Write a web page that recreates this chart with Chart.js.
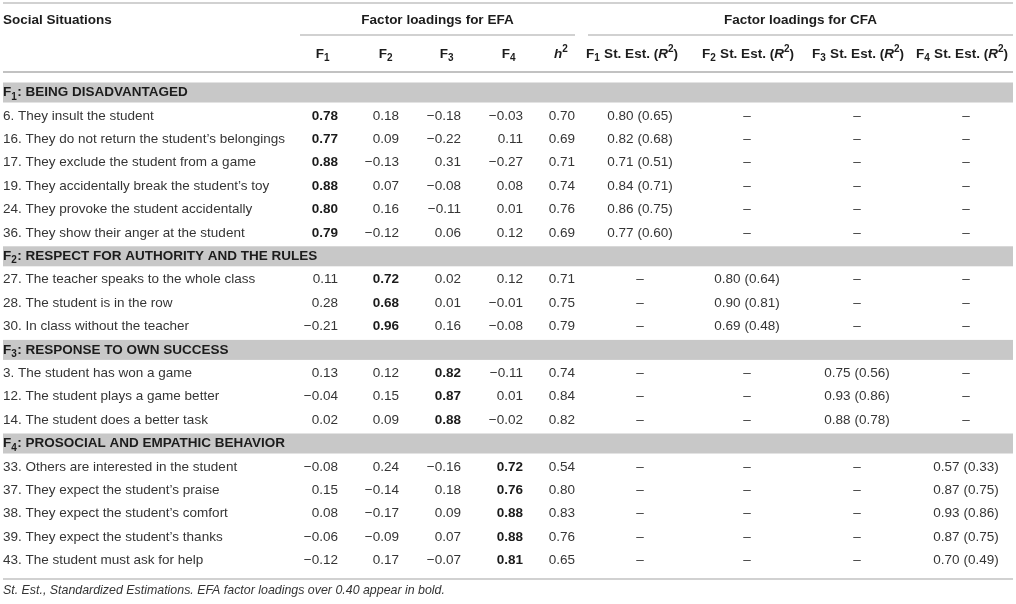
<!DOCTYPE html>
<html><head><meta charset="utf-8">
<script src="https://cdn.jsdelivr.net/npm/chart.js@4.4.1/dist/chart.umd.min.js"></script>
<style>html,body{margin:0;padding:0;background:#fff}#wrap{width:1016px;height:604px;position:relative}</style>
</head><body><div id="wrap"><canvas id="c" width="1016" height="604"></canvas></div>
<script>
// ---------- DATA ----------
const stubHeader = 'Social Situations';
const groupHeaders = ['Factor loadings for EFA', 'Factor loadings for CFA'];
const efaHeaders = ['F_1', 'F_2', 'F_3', 'F_4', '*h*^2'];
const cfaHeaders = ['F_1 St. Est. (*R*^2)', 'F_2 St. Est. (*R*^2)', 'F_3 St. Est. (*R*^2)', 'F_4 St. Est. (*R*^2)'];
const sectionTitles = ['F_1: BEING DISADVANTAGED', 'F_2: RESPECT FOR AUTHORITY AND THE RULES', 'F_3: RESPONSE TO OWN SUCCESS', 'F_4: PROSOCIAL AND EMPATHIC BEHAVIOR'];
const itemLabels = [
  '6. They insult the student', '16. They do not return the student\u2019s belongings', '17. They exclude the student from a game',
  '19. They accidentally break the student\u2019s toy', '24. They provoke the student accidentally', '36. They show their anger at the student',
  '27. The teacher speaks to the whole class', '28. The student is in the row', '30. In class without the teacher',
  '3. The student has won a game', '12. The student plays a game better', '14. The student does a better task',
  '33. Others are interested in the student', '37. They expect the student\u2019s praise', '38. They expect the student\u2019s comfort',
  '39. They expect the student\u2019s thanks', '43. The student must ask for help'
];
const itemFactor = [1,1,1,1,1,1, 2,2,2, 3,3,3, 4,4,4,4,4];
const efaF1 = [0.78,0.77,0.88,0.88,0.80,0.79, 0.11,0.28,-0.21, 0.13,-0.04,0.02, -0.08,0.15,0.08,-0.06,-0.12];
const efaF2 = [0.18,0.09,-0.13,0.07,0.16,-0.12, 0.72,0.68,0.96, 0.12,0.15,0.09, 0.24,-0.14,-0.17,-0.09,0.17];
const efaF3 = [-0.18,-0.22,0.31,-0.08,-0.11,0.06, 0.02,0.01,0.16, 0.82,0.87,0.88, -0.16,0.18,0.09,0.07,-0.07];
const efaF4 = [-0.03,0.11,-0.27,0.08,0.01,0.12, 0.12,-0.01,-0.08, -0.11,0.01,-0.02, 0.72,0.76,0.88,0.88,0.81];
const h2 = [0.70,0.69,0.71,0.74,0.76,0.69, 0.71,0.75,0.79, 0.74,0.84,0.82, 0.54,0.80,0.83,0.76,0.65];
const cfaEst = [0.80,0.82,0.71,0.84,0.86,0.77, 0.80,0.90,0.69, 0.75,0.93,0.88, 0.57,0.87,0.93,0.87,0.70];
const cfaR2 = [0.65,0.68,0.51,0.71,0.75,0.60, 0.64,0.81,0.48, 0.56,0.86,0.78, 0.33,0.75,0.86,0.75,0.49];
const boldThreshold = 0.40;
const footnote = 'St. Est., Standardized Estimations. EFA factor loadings over 0.40 appear in bold.';

// ---------- LAYOUT (styles / positions) ----------
const FONT = '"Liberation Sans", Arial, Helvetica, sans-serif';
const FS = 13.5, FOOT_FS = 12.4;
const TXT = '#353535', BOLDTXT = '#1c1c1c', BAND = '#c8c8c8', RULE = '#c2c2c2';
const ROW0_PX = 92.5, PITCH_PX = 23.4;          // scale definition (row index -> px)
const LABEL_X = 3;
const efaRightX = [338, 399, 461, 523, 575];    // right-aligned numeric anchors
const efaHeadX  = [323, 386, 447, 509, 561];
const cfaCenterX = [640, 747, 857, 966];
const cfaHeadX  = [632, 748, 858, 962];
const groupSpan = [[300, 575], [588, 1013]];
const tableX = [3, 1013];
const pxRow = px => (px - ROW0_PX) / PITCH_PX;   // layout px -> row units
const Y = { title: pxRow(20), sub: pxRow(54), top: pxRow(3), under: pxRow(35), headBottom: pxRow(72), bottom: pxRow(579), foot: pxRow(591) };
const bandHalf = 10 / PITCH_PX;

// ---------- build rows ----------
const rows = [];
let prev = 0;
itemLabels.forEach((lab, i) => {
  if (itemFactor[i] !== prev) { rows.push({type: 'section', text: sectionTitles[itemFactor[i]-1]}); prev = itemFactor[i]; }
  rows.push({type: 'item', text: lab, item: i});
});
const itemRow = {};
rows.forEach((r, ri) => { if (r.type === 'item') itemRow[r.item] = ri; });

const fmt = v => (v < 0 ? '\u2212' : '') + Math.abs(v).toFixed(2);
const efaCols = [efaF1, efaF2, efaF3, efaF4, h2];
const datasets = [];
efaCols.forEach((arr, c) => {
  datasets.push({
    label: 'EFA' + c, kind: 'efa', col: c,
    data: arr.map((v, i) => ({x: efaRightX[c], y: itemRow[i], v: v}))
  });
});
for (let c = 0; c < 4; c++) {
  datasets.push({
    label: 'CFA' + c, kind: 'cfa', col: c,
    data: cfaEst.map((v, i) => ({x: cfaCenterX[c], y: itemRow[i], v: itemFactor[i] === c+1 ? v : null, r2: cfaR2[i]}))
  });
}

// ---------- rich text helper ----------
function parseRich(s) {
  const segs = []; let it = false;
  for (let i = 0; i < s.length; i++) {
    const ch = s[i];
    if (ch === '*') { it = !it; continue; }
    if (ch === '_' || ch === '^') { segs.push({t: s[i+1], mode: ch === '_' ? 'sub' : 'sup', it}); i++; continue; }
    const last = segs[segs.length-1];
    if (last && last.mode === 'n' && last.it === it) last.t += ch; else segs.push({t: ch, mode: 'n', it});
  }
  return segs;
}
function drawRich(ctx, s, x, y, align, opt) {
  const size = opt.size || FS, weight = opt.weight || 'normal', allIt = opt.italic;
  const segs = parseRich(s);
  const fontFor = sg => {
    const sz = sg.mode === 'n' ? size : size * 0.74;
    return ((sg.it || allIt) ? 'italic ' : '') + weight + ' ' + sz + 'px ' + FONT;
  };
  let total = 0;
  segs.forEach(sg => { ctx.font = fontFor(sg); sg.w = ctx.measureText(sg.t).width + (sg.mode === 'sub' ? 0.5 : 0); total += sg.w; });
  let cx = align === 'center' ? x - total/2 : align === 'right' ? x - total : x;
  ctx.textAlign = 'left'; ctx.textBaseline = 'middle'; ctx.fillStyle = opt.color || TXT;
  segs.forEach(sg => {
    ctx.font = fontFor(sg);
    const dy = sg.mode === 'sub' ? size * 0.32 : sg.mode === 'sup' ? -size * 0.36 : 0;
    ctx.fillText(sg.t, cx, y + dy);
    cx += sg.w;
  });
}

// ---------- table plugin ----------
const tablePlugin = {
  id: 'table',
  beforeDatasetsDraw(chart) {
    const ctx = chart.ctx, xs = chart.scales.x, ys = chart.scales.y;
    ctx.save();
    rows.forEach((r, ri) => {
      if (r.type !== 'section') return;
      const t = ys.getPixelForValue(ri - bandHalf), b = ys.getPixelForValue(ri + bandHalf);
      ctx.fillStyle = BAND;
      ctx.fillRect(xs.getPixelForValue(tableX[0]), t, xs.getPixelForValue(tableX[1]) - xs.getPixelForValue(tableX[0]), b - t);
    });
    const hline = (yv, x0, x1, w) => {
      ctx.strokeStyle = RULE; ctx.lineWidth = w;
      ctx.beginPath(); const py = ys.getPixelForValue(yv);
      ctx.moveTo(xs.getPixelForValue(x0), py); ctx.lineTo(xs.getPixelForValue(x1), py); ctx.stroke();
    };
    hline(Y.top, tableX[0], tableX[1], 1.5);
    groupSpan.forEach(sp => hline(Y.under, sp[0], sp[1], 1.5));
    hline(Y.headBottom, tableX[0], tableX[1], 2);
    hline(Y.bottom, tableX[0], tableX[1], 1.5);
    ctx.restore();
  },
  afterDatasetsDraw(chart) {
    const ctx = chart.ctx, xs = chart.scales.x, ys = chart.scales.y;
    ctx.save();
    drawRich(ctx, stubHeader, xs.getPixelForValue(LABEL_X), ys.getPixelForValue(Y.title), 'left', {weight: 'bold', color: BOLDTXT});
    groupHeaders.forEach((g, i) => {
      const cx = (xs.getPixelForValue(groupSpan[i][0]) + xs.getPixelForValue(groupSpan[i][1])) / 2;
      drawRich(ctx, g, cx, ys.getPixelForValue(Y.title), 'center', {weight: 'bold', color: BOLDTXT});
    });
    efaHeaders.forEach((h, i) => drawRich(ctx, h, xs.getPixelForValue(efaHeadX[i]), ys.getPixelForValue(Y.sub), 'center', {weight: 'bold', color: BOLDTXT}));
    cfaHeaders.forEach((h, i) => drawRich(ctx, h, xs.getPixelForValue(cfaHeadX[i]), ys.getPixelForValue(Y.sub), 'center', {weight: 'bold', color: BOLDTXT}));
    rows.forEach((r, ri) => {
      const py = ys.getPixelForValue(ri);
      if (r.type === 'section') drawRich(ctx, r.text, xs.getPixelForValue(LABEL_X), py, 'left', {weight: 'bold', color: BOLDTXT});
      else drawRich(ctx, r.text, xs.getPixelForValue(LABEL_X), py, 'left', {});
    });
    chart.data.datasets.forEach((ds, di) => {
      const meta = chart.getDatasetMeta(di);
      meta.data.forEach((el, i) => {
        const raw = ds.data[i];
        if (ds.kind === 'efa') {
          const bold = ds.col < 4 && Math.abs(raw.v) > boldThreshold;
          drawRich(ctx, fmt(raw.v), el.x, el.y, 'right', {weight: bold ? 'bold' : 'normal', color: bold ? BOLDTXT : TXT});
        } else {
          const txt = raw.v === null ? '\u2013' : raw.v.toFixed(2) + ' (' + raw.r2.toFixed(2) + ')';
          drawRich(ctx, txt, el.x, el.y, 'center', {});
        }
      });
    });
    drawRich(ctx, footnote, xs.getPixelForValue(LABEL_X), ys.getPixelForValue(Y.foot), 'left', {italic: true, size: FOOT_FS});
    ctx.restore();
  }
};

new Chart(document.getElementById('c'), {
  type: 'scatter',
  data: {datasets},
  options: {
    responsive: false, animation: false, events: [],
    layout: {padding: 0},
    elements: {point: {radius: 0, hoverRadius: 0}},
    plugins: {legend: {display: false}, tooltip: {enabled: false}},
    scales: {
      x: {type: 'linear', display: false, min: 0, max: 1016},
      y: {type: 'linear', display: false, reverse: true, min: pxRow(0), max: pxRow(604)}
    }
  },
  plugins: [tablePlugin]
});
</script>
</body></html>
